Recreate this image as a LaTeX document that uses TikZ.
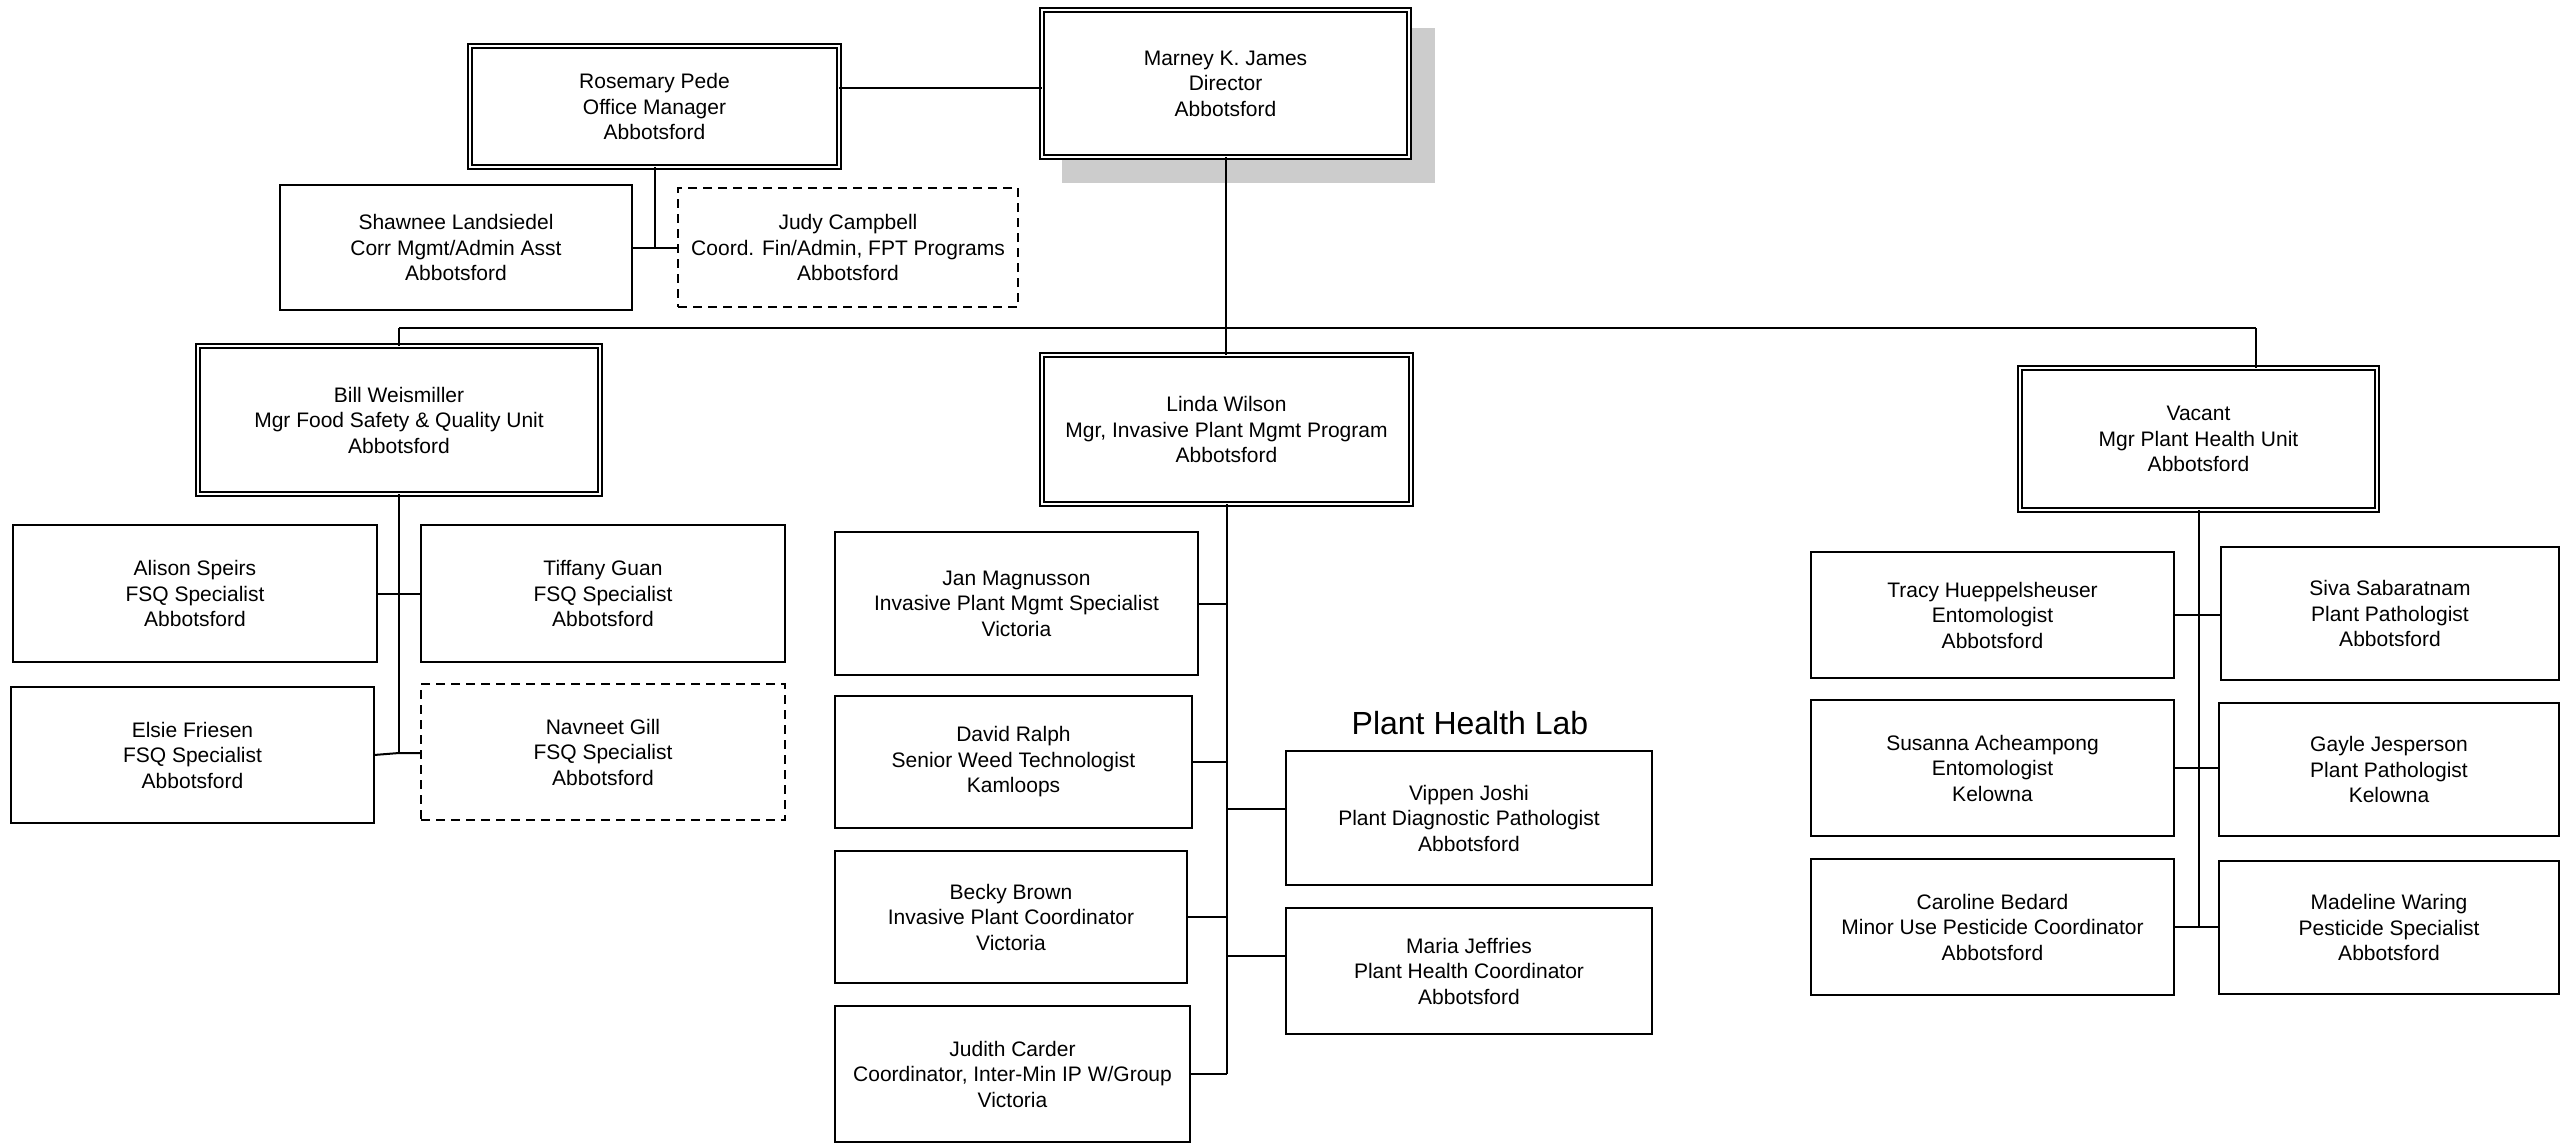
\documentclass[tikz,border=0pt]{standalone}
\usepackage{fontspec}
\setmainfont{Liberation Sans}
\definecolor{shadowgray}{RGB}{204,204,204}
\begin{document}
\begin{tikzpicture}[x=1pt,y=-1pt,
  every node/.style={font=\fontsize{21}{25.5}\selectfont, align=center, inner sep=0pt, outer sep=0pt},
  pbox/.style={draw=black, line width=2pt, fill=white, rectangle},
  dbox/.style={draw=black, line width=2pt, double=white, double distance=2.5pt, rectangle},
  vbox/.style={draw=black, line width=2pt, dash pattern=on 9pt off 6pt, fill=white, rectangle},
  conn/.style={draw=black, line width=2pt}]
\useasboundingbox (0,0) rectangle (2569,1145);
% shadow
\fill[shadowgray] (1062,28) rectangle (1435,183);
% top
\node[dbox, fill=white, minimum width=367pt, minimum height=147pt] (marney) at (1225.5,83.5) {Marney K. James\\Director\\Abbotsford};
\node[dbox, fill=white, minimum width=369pt, minimum height=121pt] (rosemary) at (654.5,106.5) {Rosemary Pede\\Office Manager\\Abbotsford};
\node[pbox, minimum width=352pt, minimum height=125pt] (shawnee) at (456,247.5) {Shawnee Landsiedel\\Corr Mgmt/Admin Asst\\Abbotsford};
\node[vbox, minimum width=340pt, minimum height=119pt] (judy) at (848,247.5) {Judy Campbell\\Coord. Fin/Admin, FPT Programs\\Abbotsford};
% managers
\node[dbox, fill=white, minimum width=402pt, minimum height=148pt] (bill) at (399,420) {Bill Weismiller\\Mgr Food Safety \& Quality Unit\\Abbotsford};
\node[dbox, fill=white, minimum width=369pt, minimum height=149pt] (linda) at (1226.5,429.5) {Linda Wilson\\Mgr, Invasive Plant Mgmt Program\\Abbotsford};
\node[dbox, fill=white, minimum width=357pt, minimum height=142pt] (vacant) at (2198.5,439) {Vacant\\Mgr Plant Health Unit\\Abbotsford};
% FSQ
\node[pbox, minimum width=364pt, minimum height=137pt] (alison) at (195,593.5) {Alison Speirs\\FSQ Specialist\\Abbotsford};
\node[pbox, minimum width=364pt, minimum height=137pt] (tiffany) at (603,593.5) {Tiffany Guan\\FSQ Specialist\\Abbotsford};
\node[pbox, minimum width=363pt, minimum height=136pt] (elsie) at (192.5,755) {Elsie Friesen\\FSQ Specialist\\Abbotsford};
\node[vbox, minimum width=364pt, minimum height=136pt] (navneet) at (603,752) {Navneet Gill\\FSQ Specialist\\Abbotsford};
% Invasive
\node[pbox, minimum width=363pt, minimum height=143pt] (jan) at (1016.5,603.5) {Jan Magnusson\\Invasive Plant Mgmt Specialist\\Victoria};
\node[pbox, minimum width=357pt, minimum height=132pt] (david) at (1013.5,762) {David Ralph\\Senior Weed Technologist\\Kamloops};
\node[pbox, minimum width=352pt, minimum height=132pt] (becky) at (1011,917) {Becky Brown\\Invasive Plant Coordinator\\Victoria};
\node[pbox, minimum width=355pt, minimum height=136pt] (judith) at (1012.5,1074) {Judith Carder\\Coordinator, Inter-Min IP W/Group\\Victoria};
\node[font=\fontsize{32}{36}\selectfont] (phl) at (1470,723) {Plant Health Lab};
\node[pbox, minimum width=366pt, minimum height=134pt] (vippen) at (1469,818) {Vippen Joshi\\Plant Diagnostic Pathologist\\Abbotsford};
\node[pbox, minimum width=366pt, minimum height=126pt] (maria) at (1469,971) {Maria Jeffries\\Plant Health Coordinator\\Abbotsford};
% Plant health
\node[pbox, minimum width=363pt, minimum height=126pt] (tracy) at (1992.5,615) {Tracy Hueppelsheuser\\Entomologist\\Abbotsford};
\node[pbox, minimum width=338pt, minimum height=133pt] (siva) at (2390,613.5) {Siva Sabaratnam\\Plant Pathologist\\Abbotsford};
\node[pbox, minimum width=363pt, minimum height=136pt] (susanna) at (1992.5,768) {Susanna Acheampong\\Entomologist\\Kelowna};
\node[pbox, minimum width=340pt, minimum height=133pt] (gayle) at (2389,769.5) {Gayle Jesperson\\Plant Pathologist\\Kelowna};
\node[pbox, minimum width=363pt, minimum height=136pt] (caroline) at (1992.5,927) {Caroline Bedard\\Minor Use Pesticide Coordinator\\Abbotsford};
\node[pbox, minimum width=340pt, minimum height=133pt] (madeline) at (2389,927.5) {Madeline Waring\\Pesticide Specialist\\Abbotsford};
% connectors
\coordinate (busL) at (399,328);
\coordinate (busR) at (2256,328);
\coordinate (busM) at (1226,328);
\draw[conn] (rosemary.east |- 0,88) -- (marney.west |- 0,88);
\draw[conn] (rosemary.south) -- (rosemary.south |- shawnee.east);
\draw[conn] (shawnee.east) -- (judy.west);
\draw[conn] (marney.south -| busM) -- (busM);
\draw[conn] (busL) -- (busR);
\draw[conn] (busL) -- (bill.north);
\draw[conn] (busM) -- (linda.north -| busM);
\draw[conn] (busR) -- (busR |- vacant.north);
% FSQ
\draw[conn] (bill.south) -- (bill.south |- 0,753);
\draw[conn] (alison.east) -- (tiffany.west);
\draw[conn] (elsie.east) -- (bill.south |- 0,753) -- (navneet.west |- 0,753);
% Invasive
\draw[conn] (linda.south) -- (linda.south |- judith.east);
\draw[conn] (jan.east) -- (jan.east -| linda.south);
\draw[conn] (david.east) -- (david.east -| linda.south);
\draw[conn] (becky.east) -- (becky.east -| linda.south);
\draw[conn] (judith.east) -- (judith.east -| linda.south);
\draw[conn] (linda.south |- 0,809) -- (vippen.west |- 0,809);
\draw[conn] (linda.south |- 0,956) -- (maria.west |- 0,956);
% Plant health
\draw[conn] (vacant.south) -- (vacant.south |- 0,927);
\draw[conn] (tracy.east) -- (tracy.east -| vacant.south) -- (siva.west |- tracy.east);
\draw[conn] (susanna.east) -- (gayle.west |- susanna.east);
\draw[conn] (caroline.east) -- (madeline.west |- caroline.east);
\end{tikzpicture}
\end{document}
